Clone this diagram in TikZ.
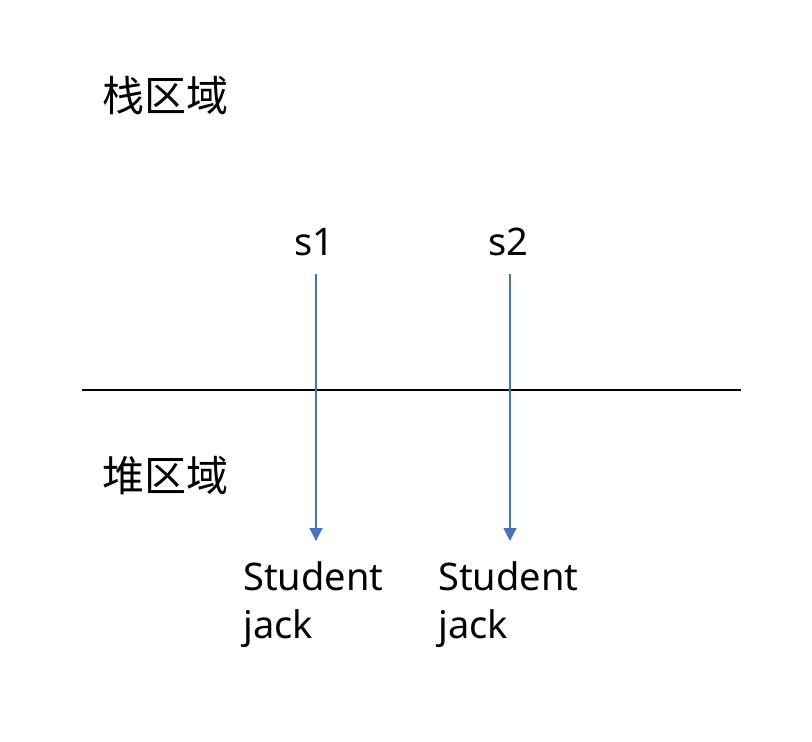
\documentclass[tikz,border=0pt]{standalone}
\usepackage{fontspec}
\setmainfont{Noto Sans}
\newfontfamily\cjkfont{Noto Sans CJK SC}
\usetikzlibrary{arrows.meta}
\definecolor{arrblue}{HTML}{4472C4}
\tikzset{
  region/.style={anchor=base west, inner sep=0pt, font=\cjkfont\fontsize{42}{48}\selectfont},
  varname/.style={anchor=base, inner sep=0pt, font=\fontsize{38}{46}\selectfont},
  objtext/.style={anchor=base west, inner sep=0pt, align=left, font=\fontsize{38}{48}\selectfont},
  ref/.style={draw=arrblue, line width=1.2pt, -{Triangle[length=13pt,width=13pt]}},
  divider/.style={draw=black, line width=1.1pt}
}
\begin{document}
\begin{tikzpicture}[x=1pt,y=-1pt]
\useasboundingbox (0,0) rectangle (812,742);
\node[region] (stack) at (102,111) {栈区域};
\node[region] (heap) at (102,491) {堆区域};
\node[varname] (s1) at (314,255) {s1};
\node[varname] (s2) at (508,255) {s2};
\node[objtext] (o1) at (243,638) {Student\\jack};
\node[objtext] (o2) at (438,638) {Student\\jack};
\coordinate (L) at (82,390);
\coordinate (R) at (741,390);
\coordinate (a1) at (316,274);
\coordinate (b1) at (316,541);
\coordinate (a2) at (510,274);
\coordinate (b2) at (510,541);
\draw[divider] (L) -- (R);
\draw[ref] (a1) -- (b1);
\draw[ref] (a2) -- (b2);
\end{tikzpicture}
\end{document}
